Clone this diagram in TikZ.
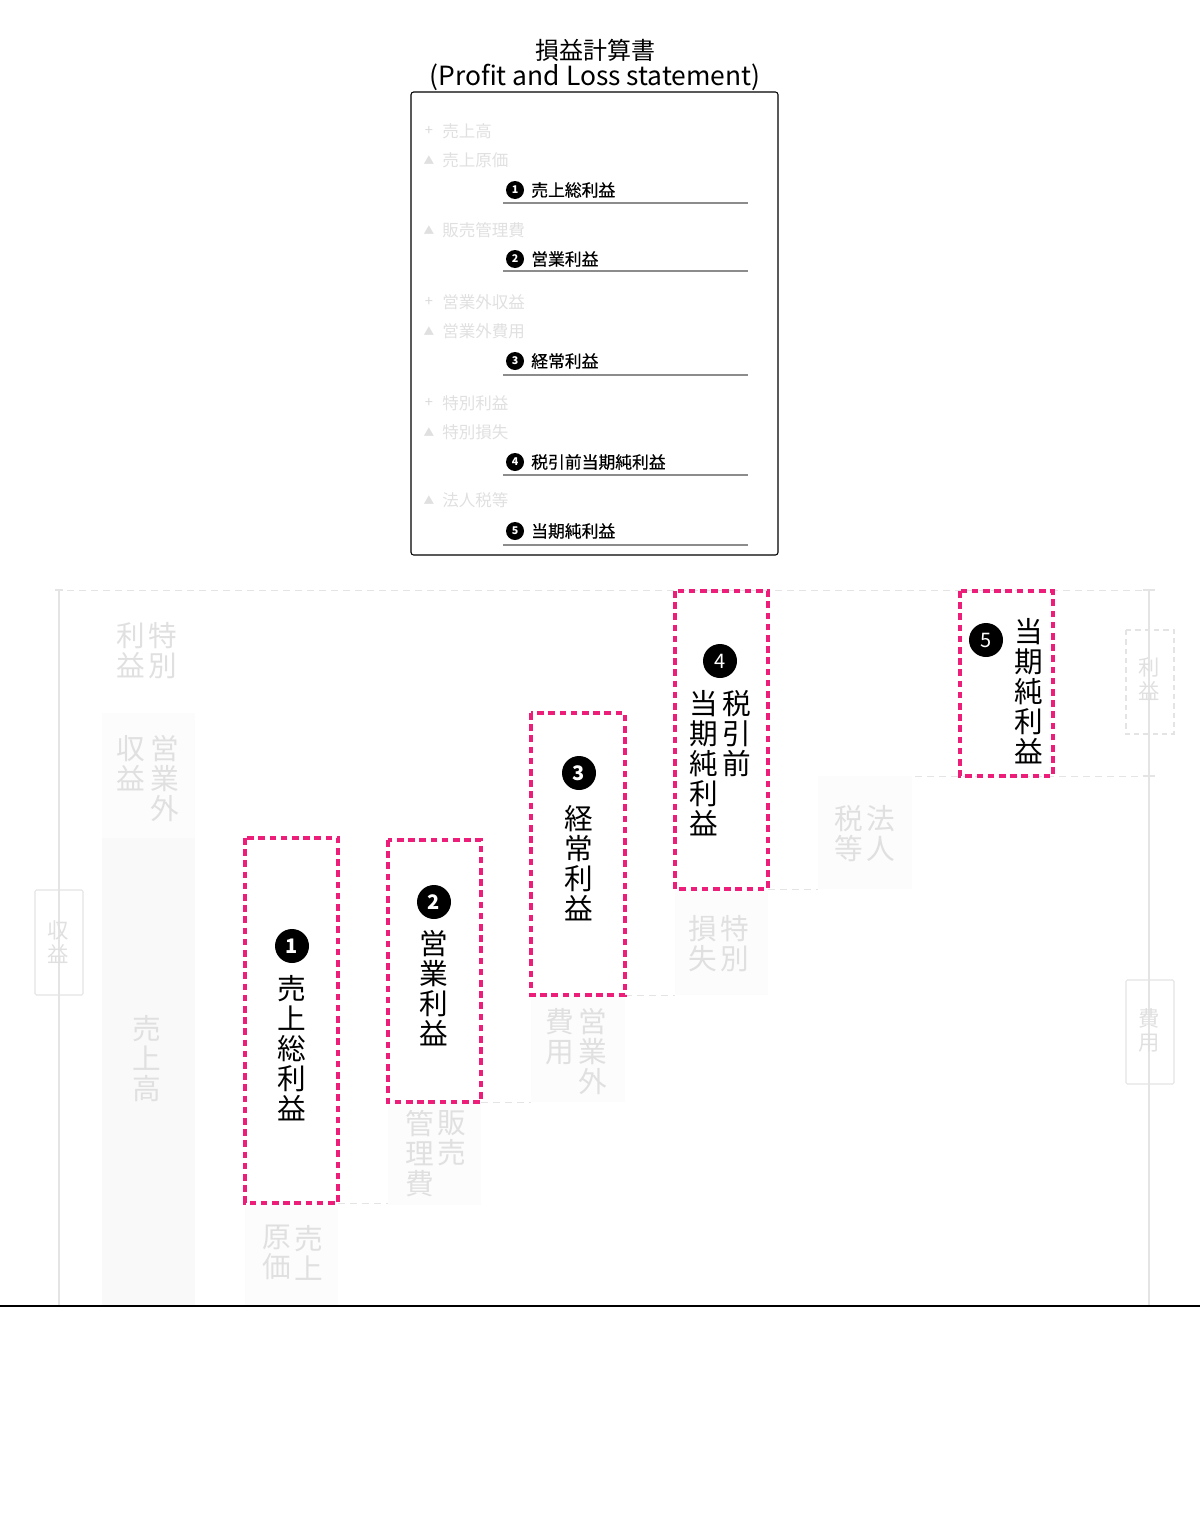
\documentclass[tikz,border=0pt]{standalone}
\usepackage{fontspec}
\setmainfont{Noto Sans CJK JP}
\newfontfamily\medfont[FakeBold=0.5]{Noto Sans CJK JP}
\definecolor{mag}{HTML}{EC1E79}
\definecolor{ghost}{HTML}{E0E0E0}
\definecolor{fillA}{HTML}{F9F9F9}
\definecolor{fillB}{HTML}{FCFCFC}
\definecolor{lineg}{HTML}{E4E4E4}
\definecolor{ulg}{HTML}{8C8C8C}
\begin{document}
\begin{tikzpicture}[x=0.75pt,y=-0.75pt,
  every node/.style={inner sep=0pt},
  bigv/.style={align=center, anchor=north, font=\fontsize{21.5}{22.5}\selectfont},
  ghostv/.style={bigv, text=ghost},
  blackv/.style={bigv, text=black},
  axisv/.style={align=center, text=ghost, font=\fontsize{16}{18}\selectfont},
  magbox/.style={draw=mag, line width=2.5pt, dash pattern=on 5pt off 3.4pt},
  stepline/.style={draw=lineg, line width=0.6pt, dash pattern=on 5pt off 4pt},
  axisline/.style={draw=lineg, line width=0.8pt},
  numc/.style={circle, fill=black, text=white, minimum size=25.5pt, font=\fontsize{15}{15}\selectfont\bfseries},
  numthin/.style={numc, font=\fontsize{15}{15}\selectfont},
  smallnum/.style={circle, fill=black, text=white, minimum size=13.5pt, font=\fontsize{8}{8}\selectfont\bfseries},
  item/.style={anchor=west, text=ghost, font=\fontsize{12.4}{13}\selectfont},
  itemsym/.style={text=ghost, font=\fontsize{8}{9}\selectfont},
  plussym/.style={text=ghost!120, font=\fontsize{11}{12}\selectfont},
  itemb/.style={anchor=west, text=black, font=\fontsize{12.6}{13}\medfont},
  uline/.style={draw=ulg, line width=1.4pt},
  regionA/.style={fill=fillA},
  regionB/.style={fill=fillB},
  titlef/.style={font=\fontsize{18}{20}\selectfont},
  titlel/.style={font=\fontsize{19.8}{22}\selectfont}
]
\useasboundingbox (0,0) rectangle (1200,1524);

% ---------- title ----------
\node[titlef] (t1) at (595,50) {損益計算書};
\node[titlel] (t2) at (595,77) {(Profit and Loss statement)};

% ---------- statement box ----------
\draw[black, line width=0.8pt, rounded corners=2pt] (411,92) rectangle (778,555);

\node[plussym] (s1) at (429,131) {+};  \node[item] (i1) at (442,131) {売上高};
\node[itemsym] (s2) at (429,160) {▲};  \node[item] (i2) at (442,160) {売上原価};
\node[smallnum] (c1) at (515,190) {1}; \node[itemb] (b1) at (531,190) {売上総利益};
\coordinate (u1a) at (503,203); \coordinate (u1b) at (748,203);
\draw[uline] (u1a) -- (u1b);

\node[itemsym] (s3) at (429,230) {▲};  \node[item] (i3) at (442,230) {販売管理費};
\node[smallnum] (c2) at (515,259) {2}; \node[itemb] (b2) at (531,259) {営業利益};
\coordinate (u2a) at (503,271); \coordinate (u2b) at (748,271);
\draw[uline] (u2a) -- (u2b);

\node[plussym] (s4) at (429,302) {+};  \node[item] (i4) at (442,302) {営業外収益};
\node[itemsym] (s5) at (429,331) {▲};  \node[item] (i5) at (442,331) {営業外費用};
\node[smallnum] (c3) at (515,361) {3}; \node[itemb] (b3) at (531,361) {経常利益};
\coordinate (u3a) at (503,375); \coordinate (u3b) at (748,375);
\draw[uline] (u3a) -- (u3b);

\node[plussym] (s6) at (429,403) {+};  \node[item] (i6) at (442,403) {特別利益};
\node[itemsym] (s7) at (429,432) {▲};  \node[item] (i7) at (442,432) {特別損失};
\node[smallnum] (c4) at (515,462) {4}; \node[itemb] (b4) at (531,462) {税引前当期純利益};
\coordinate (u4a) at (503,475); \coordinate (u4b) at (748,475);
\draw[uline] (u4a) -- (u4b);

\node[itemsym] (s8) at (429,500) {▲};  \node[item] (i8) at (442,500) {法人税等};
\node[smallnum] (c5) at (515,531) {5}; \node[itemb] (b5) at (531,531) {当期純利益};
\coordinate (u5a) at (503,545); \coordinate (u5b) at (748,545);
\draw[uline] (u5a) -- (u5b);

% ---------- chart background regions ----------
\fill[regionB] (102,713) rectangle (195,838);
\fill[regionA] (102,838) rectangle (195,1305);
\fill[regionB] (245,1205) rectangle (338,1305);
\fill[regionB] (388,1102) rectangle (481,1205);
\fill[regionB] (531,995) rectangle (625,1102);
\fill[regionB] (675,889) rectangle (768,995);
\fill[regionB] (818,776) rectangle (912,889);

% ---------- axes ----------
\coordinate (topL) at (55,590); \coordinate (topR) at (1153,590);
\draw[stepline] (topL) -- (topR);
\coordinate (la) at (59,590); \coordinate (lb) at (59,1305);
\draw[axisline] (la) -- (lb);
\coordinate (ra) at (1149,590); \coordinate (rb) at (1149,1305);
\draw[axisline] (ra) -- (rb);
\draw[draw=lineg, line width=1.2pt] (1143,590) -- (1155,590);
\draw[draw=lineg, line width=1.2pt] (1143,776) -- (1155,776);
\draw[draw=lineg, line width=1.2pt] (55,590) -- (63,590);

\draw[lineg, line width=0.8pt, rounded corners=1pt] (35,890) rectangle (83,995);
\node[axisv, anchor=north] (ax1) at (58,920) {収\\益};
\draw[lineg, line width=0.8pt, dash pattern=on 4pt off 3pt] (1126,630) rectangle (1174,734);
\node[axisv, anchor=north] (ax2) at (1149,657) {利\\益};
\draw[lineg, line width=0.8pt, rounded corners=1pt] (1126,980) rectangle (1174,1084);
\node[axisv, anchor=north] (ax3) at (1149,1008) {費\\用};

% ---------- step lines ----------
\draw[stepline] (915,776) -- (1150,776);
\draw[stepline] (768,889) -- (818,889);
\draw[stepline] (625,995) -- (675,995);
\draw[stepline] (481,1102) -- (531,1102);
\draw[stepline] (338,1203) -- (388,1203);

% ---------- ghost labels ----------
\node[ghostv] (g1a) at (163,622) {特\\別};
\node[ghostv] (g1b) at (131,622) {利\\益};
\node[ghostv] (g2a) at (165,735) {営\\業\\外};
\node[ghostv] (g2b) at (131,735) {収\\益};
\node[ghostv] (g3) at (147,1015) {売\\上\\高};
\node[ghostv] (g4a) at (309,1225) {売\\上};
\node[ghostv] (g4b) at (277,1225) {原\\価};
\node[ghostv] (g5a) at (452,1110) {販\\売};
\node[ghostv] (g5b) at (420,1110) {管\\理\\費};
\node[ghostv] (g6a) at (593,1008) {営\\業\\外};
\node[ghostv] (g6b) at (560,1008) {費\\用};
\node[ghostv] (g7a) at (735,915) {特\\別};
\node[ghostv] (g7b) at (703,915) {損\\失};
\node[ghostv] (g8a) at (881,805) {法\\人};
\node[ghostv] (g8b) at (849,805) {税\\等};

% ---------- profit boxes ----------
\draw[magbox] (245,838) rectangle (338,1203);
\node[numc] (n1) at (292,946) {1};
\node[blackv] (p1) at (292,975) {売\\上\\総\\利\\益};

\draw[magbox] (388,840) rectangle (481,1102);
\node[numc] (n2) at (434,902) {2};
\node[blackv] (p2) at (434,930) {営\\業\\利\\益};

\draw[magbox] (531,713) rectangle (625,995);
\node[numc] (n3) at (579,773) {3};
\node[blackv] (p3) at (579,805) {経\\常\\利\\益};

\draw[magbox] (675,591) rectangle (768,889);
\node[numthin] (n4) at (720,661) {4};
\node[blackv] (p4a) at (737,690) {税\\引\\前};
\node[blackv] (p4b) at (704,690) {当\\期\\純\\利\\益};

\draw[magbox] (960,591) rectangle (1053,776);
\node[numthin] (n5) at (986,640) {5};
\node[blackv] (p5) at (1029,618) {当\\期\\純\\利\\益};

% ---------- baseline ----------
\coordinate (bl) at (0,1306); \coordinate (br) at (1200,1306);
\draw[black, line width=1.5pt] (bl) -- (br);
\end{tikzpicture}
\end{document}
